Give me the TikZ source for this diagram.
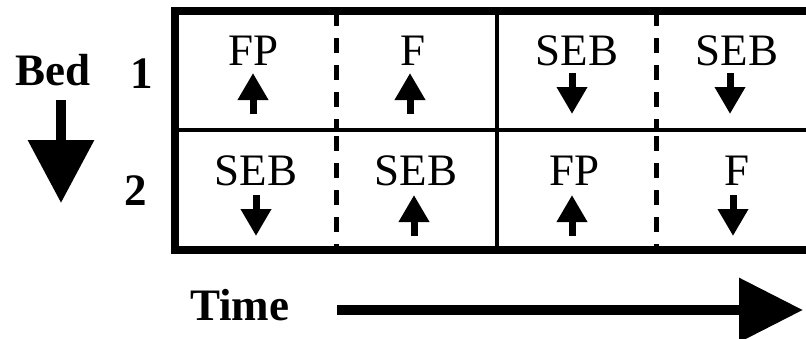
\documentclass[tikz,border=0pt]{standalone}
\usepackage{fontspec}
\setmainfont{Liberation Serif}
\usetikzlibrary{arrows.meta}
\tikzset{
  celltext/.style={font=\fontsize{45}{54}\selectfont, anchor=base, inner sep=0pt},
  boldtext/.style={font=\fontsize{45}{54}\selectfont\bfseries, anchor=base west, inner sep=0pt},
  cellarrow/.style={line width=7pt, -{Triangle[length=27pt,width=29pt]}},
  bigarrow/.style={line width=10pt, -{Triangle[length=64pt,width=62pt]}},
  border/.style={line width=8pt, line join=miter},
  divider/.style={line width=3.5pt},
  dashdiv/.style={line width=5pt, dash pattern=on 15pt off 12pt},
  pics/uparr/.style={code={\draw[cellarrow] (0,41) -- (0,0);}},
  pics/downarr/.style={code={\draw[cellarrow] (0,0) -- (0,41);}}
}
\begin{document}
\begin{tikzpicture}[x=1pt,y=-1pt]
\useasboundingbox (0,0) rectangle (806,338);
% grid
\draw[divider] (175,130) -- (815,130);
\draw[divider] (497,11) -- (497,250);
\draw[dashdiv] (336,11) -- (336,130);
\draw[dashdiv] (336,136) -- (336,250);
\draw[dashdiv] (656,11) -- (656,130);
\draw[dashdiv] (656,136) -- (656,250);
\draw[border] (815,11) -- (175,11) -- (175,250) -- (815,250);
% row 1
\node[celltext] (r1c1) at (254,65) {FP};
\node[celltext] (r1c2) at (413,65) {F};
\node[celltext] (r1c3) at (577,65) {SEB};
\node[celltext] (r1c4) at (737,65) {SEB};
\pic at (253,73) {uparr};
\pic at (410,73) {uparr};
\pic at (572,73) {downarr};
\pic at (730,73) {downarr};
% row 2
\node[celltext] (r2c1) at (256,185) {SEB};
\node[celltext] (r2c2) at (416,185) {SEB};
\node[celltext] (r2c3) at (575,185) {FP};
\node[celltext] (r2c4) at (737,185) {F};
\pic at (256,195) {downarr};
\pic at (414,195) {uparr};
\pic at (572,195) {uparr};
\pic at (733,195) {downarr};
% labels
\node[boldtext] (bed) at (15,85) {Bed};
\node[boldtext] (one) at (130,88) {1};
\node[boldtext] (two) at (124,205) {2};
\node[boldtext] (time) at (190,320) {Time};
\coordinate (bedtop) at (61,100);
\coordinate (bedtip) at (61,203);
\draw[line width=10pt, -{Triangle[length=63pt,width=64pt]}] (bedtop) -- (bedtip);
\coordinate (tstart) at (337,310);
\coordinate (ttip) at (803,310);
\draw[bigarrow] (tstart) -- (ttip);
\end{tikzpicture}
\end{document}
